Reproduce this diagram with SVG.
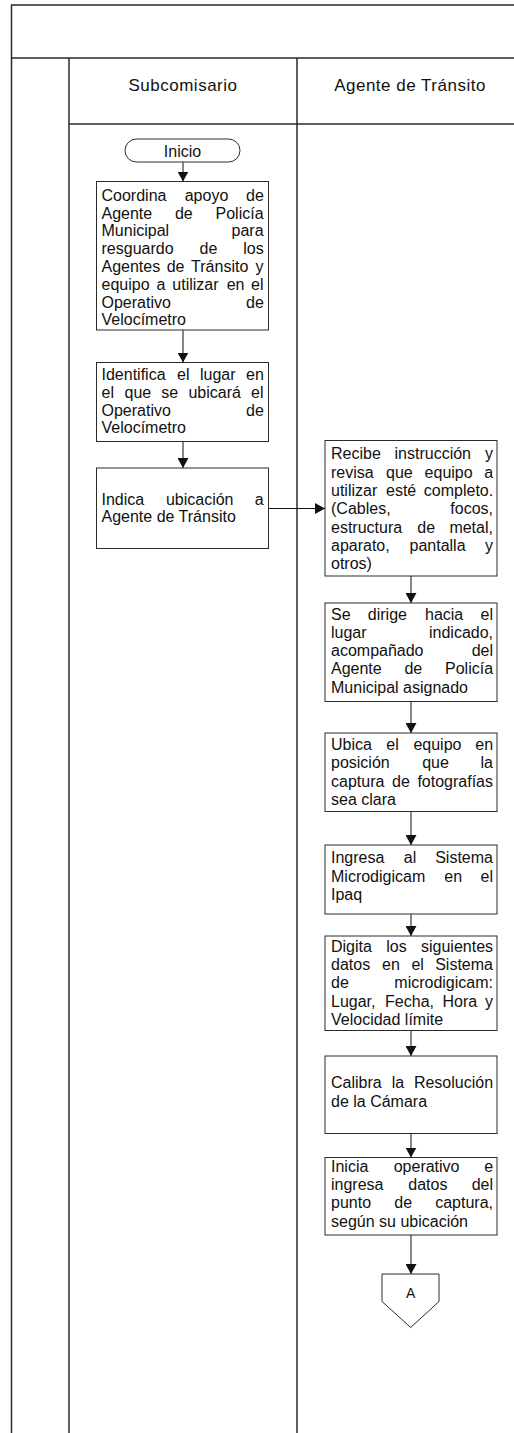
<svg xmlns="http://www.w3.org/2000/svg" width="514" height="1433" viewBox="0 0 514 1433">
<style>
.lane{stroke:#2a2a2a;stroke-width:1.5;fill:none}
.box{fill:#fff;stroke:#2a2a2a;stroke-width:1}
.t{font-family:"Liberation Sans",Arial,sans-serif;font-size:16px;fill:#111}
.hdr{font-family:"Liberation Sans",Arial,sans-serif;font-size:17px;letter-spacing:0.5px;fill:#111;text-anchor:middle}
.c{text-anchor:middle}
.ar{stroke:#111;stroke-width:1;fill:none;marker-end:url(#ah)}
</style>
<defs>
<marker id="ah" markerUnits="userSpaceOnUse" markerWidth="11" markerHeight="11" refX="10" refY="5.5" orient="auto">
<path d="M0,0 L10,5.5 L0,11 z" fill="#111"/>
</marker>
</defs>
<rect width="514" height="1433" fill="#fff"/>
<g id="lanes">
<path class="lane" d="M11.5,1433 V5 H514 M11.5,58 H514 M69,58 V1433 M69,124 H514 M297,58 V1433"/>
<text class="hdr" x="183" y="91">Subcomisario</text>
<text class="hdr" x="410" y="91">Agente de Tránsito</text>
</g>
<g id="connectors">
<line class="ar" x1="183" y1="162" x2="183" y2="181.5"/>
<line class="ar" x1="183" y1="330" x2="183" y2="362.5"/>
<line class="ar" x1="183" y1="441.5" x2="183" y2="468"/>
<line class="ar" x1="268.5" y1="508.5" x2="325" y2="508.5"/>
<line class="ar" x1="411" y1="576" x2="411" y2="603"/>
<line class="ar" x1="411" y1="701.5" x2="411" y2="733"/>
<line class="ar" x1="411" y1="811.5" x2="411" y2="845"/>
<line class="ar" x1="411" y1="914" x2="411" y2="936"/>
<line class="ar" x1="411" y1="1030.5" x2="411" y2="1056"/>
<line class="ar" x1="411" y1="1133.5" x2="411" y2="1157.5"/>
<line class="ar" x1="411" y1="1235" x2="411" y2="1274"/>
</g>
<g id="inicio">
<rect class="box" x="125" y="139" width="115" height="23" rx="11.5" ry="11.5"/>
<text class="t c" x="182.5" y="156.5">Inicio</text>
</g>
<g id="s1">
<rect class="box" x="96.5" y="181.5" width="172" height="148.5"/>
<text class="t"><tspan x="101.5" y="200.7">Coordina</tspan><tspan x="184.7" y="200.7">apoyo</tspan><tspan x="246" y="200.7">de</tspan></text>
<text class="t"><tspan x="101.5" y="218.5">Agente</tspan><tspan x="174.9" y="218.5">de</tspan><tspan x="215.5" y="218.5">Policía</tspan></text>
<text class="t"><tspan x="101.5" y="236.3">Municipal</tspan><tspan x="231.5" y="236.3">para</tspan></text>
<text class="t"><tspan x="101.5" y="254.1">resguardo</tspan><tspan x="199.6" y="254.1">de</tspan><tspan x="243.3" y="254.1">los</tspan></text>
<text class="t"><tspan x="101.5" y="271.9">Agentes</tspan><tspan x="166.7" y="271.9">de</tspan><tspan x="191.1" y="271.9">Tránsito</tspan><tspan x="255.5" y="271.9">y</tspan></text>
<text class="t"><tspan x="101.5" y="289.7">equipo</tspan><tspan x="156.5" y="289.7">a</tspan><tspan x="172.3" y="289.7">utilizar</tspan><tspan x="226.7" y="289.7">en</tspan><tspan x="251" y="289.7">el</tspan></text>
<text class="t"><tspan x="101.5" y="307.5">Operativo</tspan><tspan x="246" y="307.5">de</tspan></text>
<text class="t" x="101.5" y="325.3">Velocímetro</text>
</g>
<g id="s2">
<rect class="box" x="96.5" y="362.5" width="172" height="79"/>
<text class="t"><tspan x="101.5" y="380">Identifica</tspan><tspan x="177" y="380">el</tspan><tspan x="200" y="380">lugar</tspan><tspan x="246" y="380">en</tspan></text>
<text class="t"><tspan x="101.5" y="397.8">el</tspan><tspan x="124.5" y="397.8">que</tspan><tspan x="161.3" y="397.8">se</tspan><tspan x="188.4" y="397.8">ubicará</tspan><tspan x="251" y="397.8">el</tspan></text>
<text class="t"><tspan x="101.5" y="415.6">Operativo</tspan><tspan x="246" y="415.6">de</tspan></text>
<text class="t" x="101.5" y="433.4">Velocímetro</text>
</g>
<g id="s3">
<rect class="box" x="96.5" y="468" width="172" height="80.5"/>
<text class="t"><tspan x="101.5" y="504.5">Indica</tspan><tspan x="165.9" y="504.5">ubicación</tspan><tspan x="254.8" y="504.5">a</tspan></text>
<text class="t" x="101.5" y="522.3">Agente de Tránsito</text>
</g>
<g id="a1">
<rect class="box" x="325" y="440.5" width="172" height="135.5"/>
<text class="t"><tspan x="331" y="459.3">Recibe</tspan><tspan x="394.5" y="459.3">instrucción</tspan><tspan x="485" y="459.3">y</tspan></text>
<text class="t"><tspan x="331" y="477.6">revisa</tspan><tspan x="386" y="477.6">que</tspan><tspan x="424.6" y="477.6">equipo</tspan><tspan x="484.3" y="477.6">a</tspan></text>
<text class="t"><tspan x="331" y="495.9">utilizar</tspan><tspan x="386" y="495.9">esté</tspan><tspan x="423.8" y="495.9">completo.</tspan></text>
<text class="t"><tspan x="331" y="514.2">(Cables,</tspan><tspan x="450.3" y="514.2">focos,</tspan></text>
<text class="t"><tspan x="331" y="532.5">estructura</tspan><tspan x="417.3" y="532.5">de</tspan><tspan x="449.4" y="532.5">metal,</tspan></text>
<text class="t"><tspan x="331" y="550.8">aparato,</tspan><tspan x="409.5" y="550.8">pantalla</tspan><tspan x="485" y="550.8">y</tspan></text>
<text class="t" x="331" y="569.1">otros)</text>
</g>
<g id="a2">
<rect class="box" x="325" y="603" width="172" height="98.5"/>
<text class="t"><tspan x="331" y="619.5">Se</tspan><tspan x="367.8" y="619.5">dirige</tspan><tspan x="425" y="619.5">hacia</tspan><tspan x="480.5" y="619.5">el</tspan></text>
<text class="t"><tspan x="331" y="637.8">lugar</tspan><tspan x="429" y="637.8">indicado,</tspan></text>
<text class="t"><tspan x="331" y="656.1">acompañado</tspan><tspan x="471.7" y="656.1">del</tspan></text>
<text class="t"><tspan x="331" y="674.4">Agente</tspan><tspan x="404.4" y="674.4">de</tspan><tspan x="445" y="674.4">Policía</tspan></text>
<text class="t" x="331" y="692.7">Municipal asignado</text>
</g>
<g id="a3">
<rect class="box" x="325" y="733" width="172" height="78.5"/>
<text class="t"><tspan x="331" y="750">Ubica</tspan><tspan x="386.3" y="750">el</tspan><tspan x="413.4" y="750">equipo</tspan><tspan x="475.3" y="750">en</tspan></text>
<text class="t"><tspan x="331" y="768.3">posición</tspan><tspan x="422.2" y="768.3">que</tspan><tspan x="480.5" y="768.3">la</tspan></text>
<text class="t"><tspan x="331" y="786.6">captura</tspan><tspan x="392" y="786.6">de</tspan><tspan x="417.4" y="786.6">fotografías</tspan></text>
<text class="t" x="331" y="804.9">sea clara</text>
</g>
<g id="a4">
<rect class="box" x="325" y="845" width="172" height="69"/>
<text class="t"><tspan x="331" y="863.3">Ingresa</tspan><tspan x="403.8" y="863.3">al</tspan><tspan x="435.2" y="863.3">Sistema</tspan></text>
<text class="t"><tspan x="331" y="881.6">Microdigicam</tspan><tspan x="444.3" y="881.6">en</tspan><tspan x="480.5" y="881.6">el</tspan></text>
<text class="t" x="331" y="899.9">Ipaq</text>
</g>
<g id="a5">
<rect class="box" x="325" y="936" width="172" height="94.5"/>
<text class="t"><tspan x="331" y="951.7">Digita</tspan><tspan x="386.3" y="951.7">los</tspan><tspan x="421" y="951.7">siguientes</tspan></text>
<text class="t"><tspan x="331" y="970">datos</tspan><tspan x="382" y="970">en</tspan><tspan x="411.4" y="970">el</tspan><tspan x="435.2" y="970">Sistema</tspan></text>
<text class="t"><tspan x="331" y="988.3">de</tspan><tspan x="394.3" y="988.3">microdigicam:</tspan></text>
<text class="t"><tspan x="331" y="1006.6">Lugar,</tspan><tspan x="385.1" y="1006.6">Fecha,</tspan><tspan x="442.5" y="1006.6">Hora</tspan><tspan x="485" y="1006.6">y</tspan></text>
<text class="t" x="331" y="1024.9">Velocidad límite</text>
</g>
<g id="a6">
<rect class="box" x="325" y="1056" width="172" height="77.5"/>
<text class="t"><tspan x="331" y="1088.3">Calibra</tspan><tspan x="391.8" y="1088.3">la</tspan><tspan x="413.9" y="1088.3">Resolución</tspan></text>
<text class="t" x="331" y="1106.6">de la Cámara</text>
</g>
<g id="a7">
<rect class="box" x="325" y="1157.5" width="172" height="77.5"/>
<text class="t"><tspan x="331" y="1171.7">Inicia</tspan><tspan x="393.7" y="1171.7">operativo</tspan><tspan x="484.3" y="1171.7">e</tspan></text>
<text class="t"><tspan x="331" y="1190">ingresa</tspan><tspan x="408.3" y="1190">datos</tspan><tspan x="471.7" y="1190">del</tspan></text>
<text class="t"><tspan x="331" y="1208.3">punto</tspan><tspan x="394.3" y="1208.3">de</tspan><tspan x="435.2" y="1208.3">captura,</tspan></text>
<text class="t" x="331" y="1226.6">según su ubicación</text>
</g>
<g id="connA">
<polygon class="box" points="382,1274 439,1274 439,1301.5 410.7,1327.5 382,1301.5" stroke="#333"/>
<text class="t c" x="410.7" y="1298" fill="#444" style="font-size:14px">A</text>
</g>
</svg>
